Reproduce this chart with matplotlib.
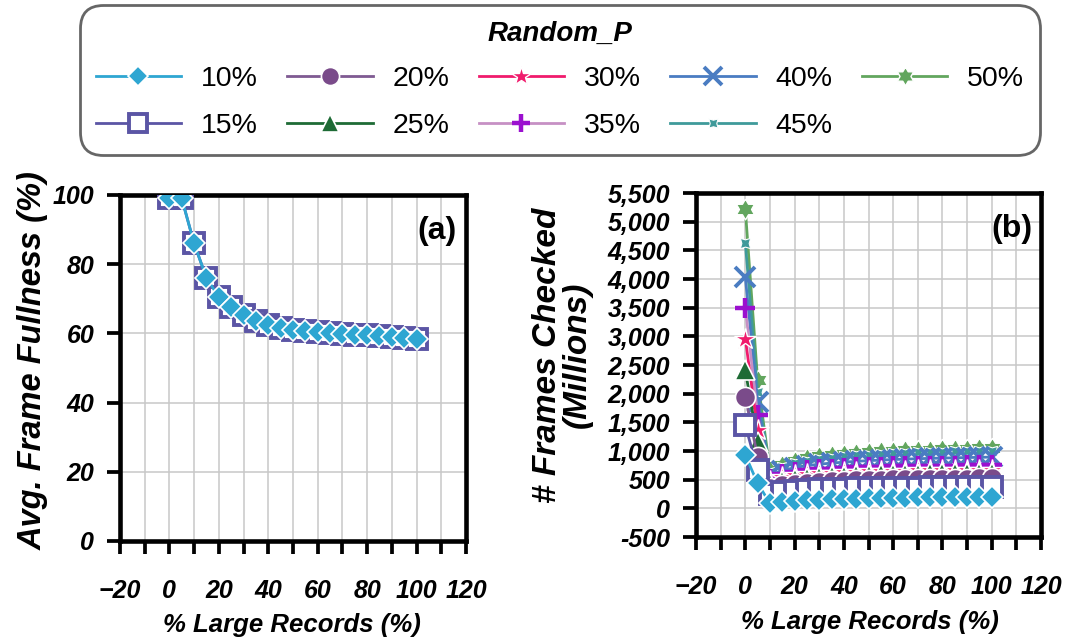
"""Average frame fullness and frames checked against the share of large records."""
import matplotlib

matplotlib.use("Agg")
import matplotlib.pyplot as plt
import numpy as np
from matplotlib.lines import Line2D
from matplotlib.ticker import FuncFormatter, MultipleLocator

plt.rcParams["font.family"] = ["Liberation Sans", "DejaVu Sans"]

# --- Data ---

large_records = [0, 5, 10, 15, 20, 25, 30, 35, 40, 45, 50,
                 55, 60, 65, 70, 75, 80, 85, 90, 95, 100]

series_labels = ["10%", "15%", "20%", "25%", "30%", "35%", "40%", "45%", "50%"]

# Avg. frame fullness (%) is the same for every Random_P setting
fullness = [99.1, 99.0, 86.0, 76.0, 70.5, 67.6, 65.2, 63.6, 62.5, 61.6, 61.0,
            60.6, 60.3, 60.0, 59.8, 59.6, 59.4, 59.2, 59.0, 58.8, 58.5]

# Frames checked (millions)
frames_10 = [930, 435, 90, 115, 130, 140, 150, 158, 165, 170, 175,
             180, 184, 188, 191, 194, 196, 198, 200, 202, 204]
frames_15 = [1450, 667, 250, 290, 310, 322, 332, 338, 344, 348, 352,
             355, 358, 360, 362, 364, 365, 366, 367, 368, 370]
frames_20 = [1945, 899, 350, 400, 430, 450, 465, 475, 483, 490, 496,
             500, 504, 508, 511, 514, 516, 518, 520, 522, 524]
frames_25 = [2409, 1160, 420, 480, 515, 535, 550, 562, 572, 580, 587,
             592, 597, 601, 605, 608, 611, 613, 615, 617, 619]
frames_30 = [2962, 1364, 470, 540, 575, 598, 613, 625, 634, 641, 647,
             652, 656, 660, 663, 666, 668, 670, 672, 674, 676]
frames_35 = [3502, 1625, 520, 600, 640, 665, 682, 695, 705, 713, 720,
             726, 731, 735, 739, 742, 745, 747, 749, 751, 753]
frames_40 = [4035, 1857, 580, 660, 710, 745, 770, 790, 806, 820, 832,
             842, 851, 859, 866, 872, 877, 882, 886, 890, 894]
frames_45 = [4634, 2031, 640, 730, 790, 830, 860, 885, 905, 922, 936,
             948, 958, 967, 975, 982, 988, 993, 998, 1002, 1006]
frames_50 = [5220, 2235, 667, 754, 820, 870, 905, 930, 950, 966, 980,
             992, 1002, 1010, 1018, 1025, 1031, 1036, 1040, 1044, 1048]

frames_checked = [frames_10, frames_15, frames_20, frames_25, frames_30,
                  frames_35, frames_40, frames_45, frames_50]


def hexagram() -> np.ndarray:
    """Six-pointed star outline usable as a marker."""
    angles = np.deg2rad(np.arange(13) * 30 + 90)
    radii = np.where(np.arange(13) % 2 == 0, 1.0, 0.58)
    return np.column_stack([radii * np.cos(angles), radii * np.sin(angles)])


WHITE = "white"
STYLES = {
    "10%": dict(color="#2ea6d2", marker="D", ms=11.5, mfc="#2ea6d2", mec=WHITE, mew=1.2),
    "15%": dict(color="#5b55a5", marker="s", ms=14, mfc=WHITE, mec="#5b55a5", mew=2.8),
    "20%": dict(color="#7f5a92", marker="o", ms=14.5, mfc="#7a4b8a", mec=WHITE, mew=1.2),
    "25%": dict(color="#1e6b35", marker="^", ms=14.5, mfc="#1e6b35", mec=WHITE, mew=1.2),
    "30%": dict(color="#f01b6c", marker="*", ms=16, mfc="#f01b6c", mec=WHITE, mew=1.0),
    "35%": dict(color="#c690c4", marker="+", ms=14.5, mfc="#9b10cf", mec="#9b10cf", mew=3.2),
    "40%": dict(color="#4a7cc2", marker="x", ms=14.5, mfc="#4a7cc2", mec="#4a7cc2", mew=2.8),
    "45%": dict(color="#3f9a9a", marker=(4, 1, 45), ms=10.5, mfc="#3f9a9a", mec=WHITE, mew=0.8),
    "50%": dict(color="#62a65e", marker=hexagram(), ms=15, mfc="#62a65e", mec=WHITE, mew=1.0),
}

TICK_SIZE = 18


def style_axes(ax, ylim, ystep):
    """Excel-like frame: heavy black border, light grid, outward ticks."""
    ax.set_xlim(-20, 120)
    ax.set_ylim(*ylim)
    ax.xaxis.set_major_locator(MultipleLocator(20))
    ax.xaxis.set_minor_locator(MultipleLocator(10))
    ax.yaxis.set_major_locator(MultipleLocator(ystep))
    ax.grid(True, which="both", axis="x", color="#c8c8c8", lw=1.1)
    ax.grid(True, which="major", axis="y", color="#c8c8c8", lw=1.1)
    ax.set_axisbelow(True)
    for spine in ax.spines.values():
        spine.set_linewidth(3.3)
        spine.set_color("black")
    ax.tick_params(axis="both", which="both", direction="out", length=9.5,
                   width=2.7, color="black")
    ax.tick_params(axis="x", which="major", pad=18)
    ax.tick_params(axis="y", which="major", pad=9)


def bold_italic_ticks(ax):
    for label in ax.get_xticklabels() + ax.get_yticklabels():
        label.set_fontsize(TICK_SIZE)
        label.set_fontweight("bold")
        label.set_fontstyle("italic")


fig = plt.figure(figsize=(10.7, 6.39), dpi=100)
ax_a = fig.add_axes([0.1121, 0.1534, 0.3234, 0.5415])
ax_b = fig.add_axes([0.6505, 0.1596, 0.3224, 0.5383])

# (a) Average frame fullness
for label in ["15%", "10%"]:
    ax_a.plot(large_records, fullness, lw=2, zorder=3, **STYLES[label])

# (b) Frames checked, drawn largest first so the 10% diamonds stay on top
for label, values in reversed(list(zip(series_labels, frames_checked))):
    ax_b.plot(large_records, values, lw=2, zorder=3, **STYLES[label])

style_axes(ax_a, (0, 100), 20)
style_axes(ax_b, (-500, 5500), 500)
ax_b.yaxis.set_major_formatter(FuncFormatter(lambda v, _: f"{v:,.0f}"))
bold_italic_ticks(ax_a)
bold_italic_ticks(ax_b)

for ax, tag in [(ax_a, "(a)"), (ax_b, "(b)")]:
    ax.text(0.915, 0.895, tag, transform=ax.transAxes, ha="center", va="center",
            fontsize=23, fontweight="bold")

label_font = dict(fontweight="bold", fontstyle="italic", ha="center", va="center")
fig.text(292 / 1070, 1 - 625 / 639, "% Large Records (%)", fontsize=18.5, **label_font)
fig.text(870 / 1070, 1 - 622 / 639, "% Large Records (%)", fontsize=18.5, **label_font)
fig.text(33 / 1070, 1 - 361 / 639, "Avg. Frame Fullness (%)", rotation=90,
         fontsize=23.5, **label_font)
fig.text(562 / 1070, 1 - 355 / 639, "# Frames Checked\n(Millions)", rotation=90,
         fontsize=24, linespacing=0.95, **label_font)

# Shared legend across the top
handles = [Line2D([], [], lw=2, **STYLES[label]) for label in series_labels]
legend = fig.legend(
    handles, series_labels, ncol=5, loc="upper left",
    bbox_to_anchor=(80 / 1070, 1 - 5 / 639, 960 / 1070, 0), mode="expand",
    fontsize=20.5, handlelength=3.0, handletextpad=0.7, markerscale=0.9,
    labelspacing=0.75, borderpad=0.55, borderaxespad=0,
    title="Random_P",
    title_fontproperties=dict(size=20, weight="bold", style="italic"),
    frameon=True, fancybox=True,
)
legend._legend_box.sep = 14
frame = legend.get_frame()
frame.set_edgecolor("#404040")
frame.set_linewidth(2)
frame.set_boxstyle("round,pad=0,rounding_size=0.8")

fig.savefig("out.png", dpi=100)
